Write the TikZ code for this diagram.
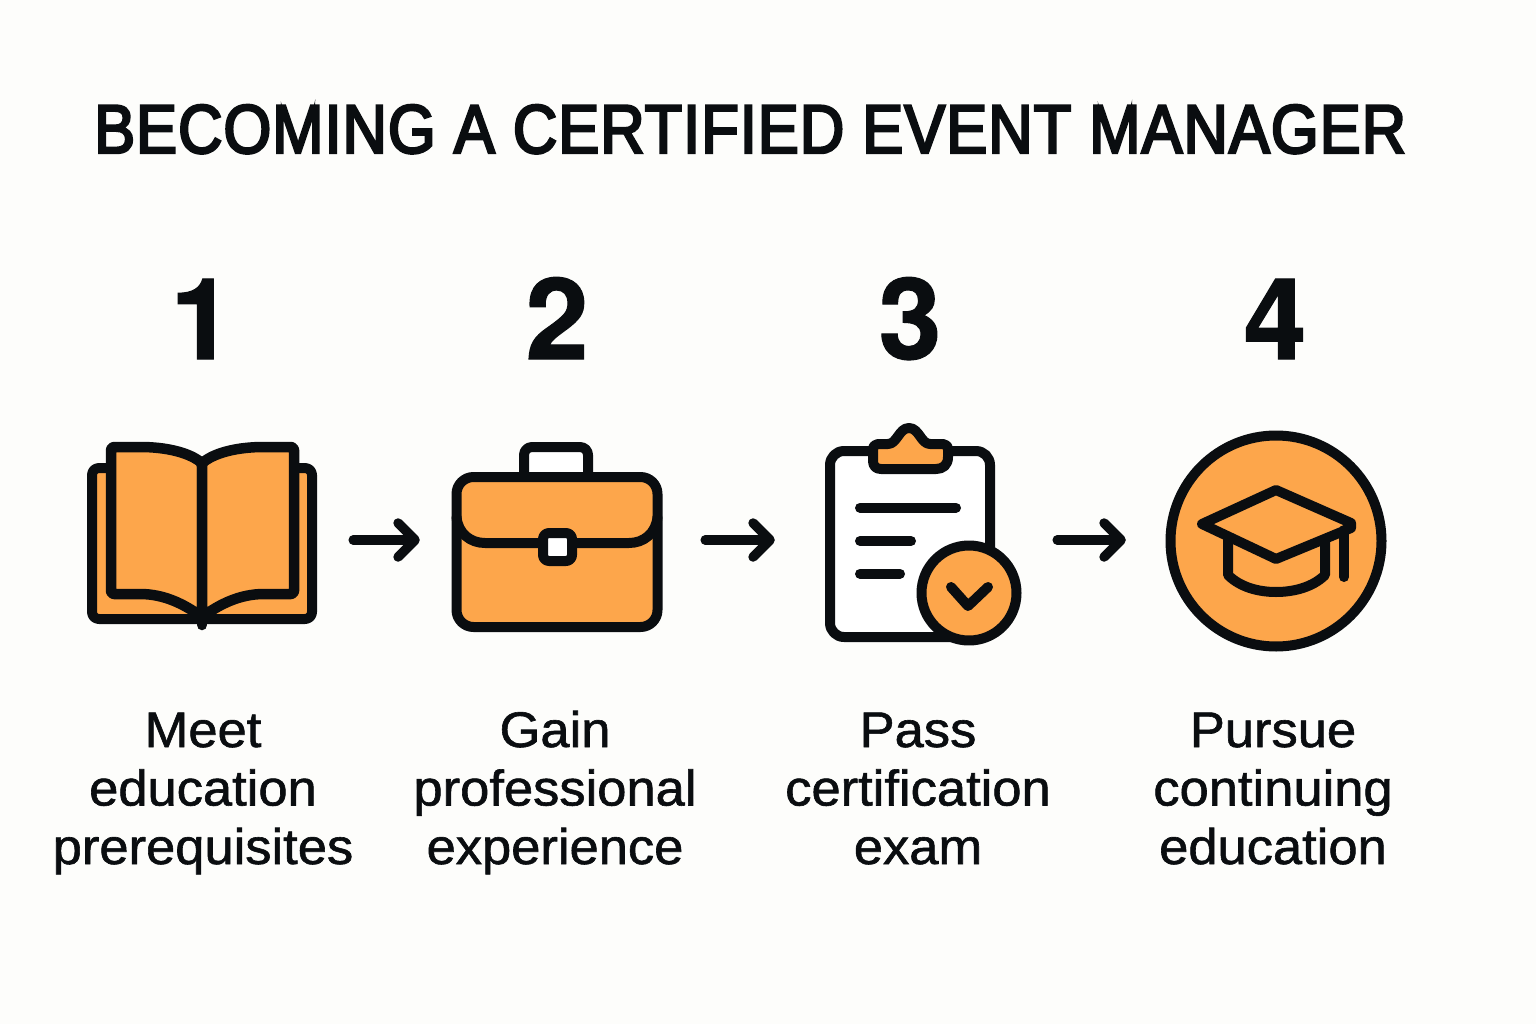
\documentclass[tikz,border=0pt]{standalone}
\usepackage{fontspec}
\usetikzlibrary{arrows.meta}
\newfontfamily\titlefont[FakeBold=3.5,FakeStretch=0.89,LetterSpace=1.5]{Liberation Sans}
\newfontfamily\numfont[FakeBold=1]{TeX Gyre Heros Bold}
\newfontfamily\labfont[FakeBold=1.2,FakeStretch=1.05]{Liberation Sans}
\newcommand{\topstrut}{\rule{0pt}{37pt}}
\newcommand{\botstrut}{\rule[-12pt]{0pt}{12pt}}
\definecolor{paper}{HTML}{FDFDFB}
\definecolor{ink}{HTML}{0A0D10}
\definecolor{amber}{HTML}{FDA64B}
\tikzset{
  x=1pt,y=-1pt,
  icon/.style={draw=ink,line width=10pt,line join=round,line cap=round},
  slot/.style={inner sep=0pt,minimum height=20pt},
  conn/.style={draw=ink,line width=9.5pt,line cap=round,-{Straight Barb[length=17pt,width=34pt,line cap=round,line join=round]}},
  numeral/.style={font=\numfont\fontsize{113}{113}\selectfont,text=ink,anchor=base,inner sep=0pt},
  steplabel/.style={font=\labfont\fontsize{50}{58.5}\selectfont,text=ink,align=center,inner sep=0pt},
}
\begin{document}
\begin{tikzpicture}
\fill[paper] (0,0) rectangle (1536,1024);
\useasboundingbox (0,0) rectangle (1536,1024);
\node[anchor=base west,inner sep=0pt,text=ink,font=\titlefont\fontsize{69}{69}\selectfont] (title) at (94,153) {BECOMING A CERTIFIED EVENT MANAGER};
\node[numeral] (n1) at (202,359) {1};
\node[numeral] (n2) at (557,359) {2};
\node[numeral] (n3) at (910,359) {3};
\node[numeral] (n4) at (1275,359) {4};
% anchors for the connectors
\node[slot,minimum width=230pt] (book) at (202,540) {};
\node[slot,minimum width=210pt] (case) at (557,540) {};
\node[slot,minimum width=196pt] (clip) at (923,540) {};
\node[slot,minimum width=220pt] (cap) at (1276,540) {};
% book
\draw[icon,fill=amber,rounded corners=7pt] (92,468) rectangle (312,619);
\draw[icon,line width=10.5pt,fill=amber,rounded corners=3pt] (111,447) -- (137,447) .. controls (165,447) and (187,452) .. (202,463) -- (202,617) .. controls (185,605) and (165,594) .. (137,594) -- (111,594) -- cycle;
\draw[icon,line width=10.5pt,fill=amber,rounded corners=3pt] (294,447) -- (267,447) .. controls (239,447) and (217,452) .. (202,463) -- (202,617) .. controls (219,605) and (239,594) .. (267,594) -- (294,594) -- cycle;
\draw[icon,line width=10.5pt] (202,463) -- (202,625);
% briefcase
\draw[icon,fill=white,rounded corners=8pt] (524,477) -- (524,447) -- (588,447) -- (588,477);
\draw[icon,fill=amber,rounded corners=17pt] (456.5,477) rectangle (657.5,627);
\draw[icon] (456.5,517) .. controls (458,533) and (470,543) .. (485,543) -- (629,543) .. controls (644,543) and (656,533) .. (657.5,517);
\draw[icon,fill=white,rounded corners=6pt] (543,533) rectangle (572,561);
% clipboard
\draw[icon,fill=white,rounded corners=14pt] (830,451) rectangle (990,637);
\draw[icon,fill=amber] (873,450) .. controls (873,446) and (875,444) .. (878,444) -- (888,444) .. controls (897,444) and (899,428) .. (909,428) .. controls (919,428) and (921,444) .. (930,444) -- (943,444) .. controls (946,444) and (948,446) .. (948,450) -- (948,457) .. controls (948,465) and (943,469) .. (936,469) -- (881,469) .. controls (876,469) and (873,466) .. (873,461) -- cycle;
\draw[icon] (860,507.7) -- (956,507.7);
\draw[icon] (860,541) -- (911,541);
\draw[icon] (860,573.7) -- (900,573.7);
\draw[icon,fill=amber] (969,593) circle[radius=47.5pt];
\draw[icon] (951,587) -- (968,606) -- (988,587);
% graduation cap
\draw[icon,fill=amber] (1276,541) circle[radius=105.5pt];
\draw[icon] (1228,540) -- (1228,575) .. controls (1240,587) and (1258,592) .. (1276,592) .. controls (1294,592) and (1313,587) .. (1325,575) -- (1325,540);
\draw[icon,fill=amber] (1276,490) -- (1351,523) -- (1351,528) -- (1276,559) -- (1202,524) -- cycle;
\draw[icon] (1344,530) -- (1344,577);
% connectors
\draw[conn] ([xshift=36pt]book.east) -- ([xshift=-32pt]case.west);
\draw[conn] ([xshift=43pt]case.east) -- ([xshift=-50pt]clip.west);
\draw[conn] ([xshift=36pt]clip.east) -- ([xshift=-40pt]cap.west);
% labels
\node[steplabel] (l1) at (203,793) {\topstrut Meet\\education\\prerequisites\botstrut};
\node[steplabel] (l2) at (555,793) {\topstrut Gain\\professional\\experience\botstrut};
\node[steplabel] (l3) at (918,793) {\topstrut Pass\\certification\\exam\botstrut};
\node[steplabel] (l4) at (1273,793) {\topstrut Pursue\\continuing\\education\botstrut};
\end{tikzpicture}
\end{document}
